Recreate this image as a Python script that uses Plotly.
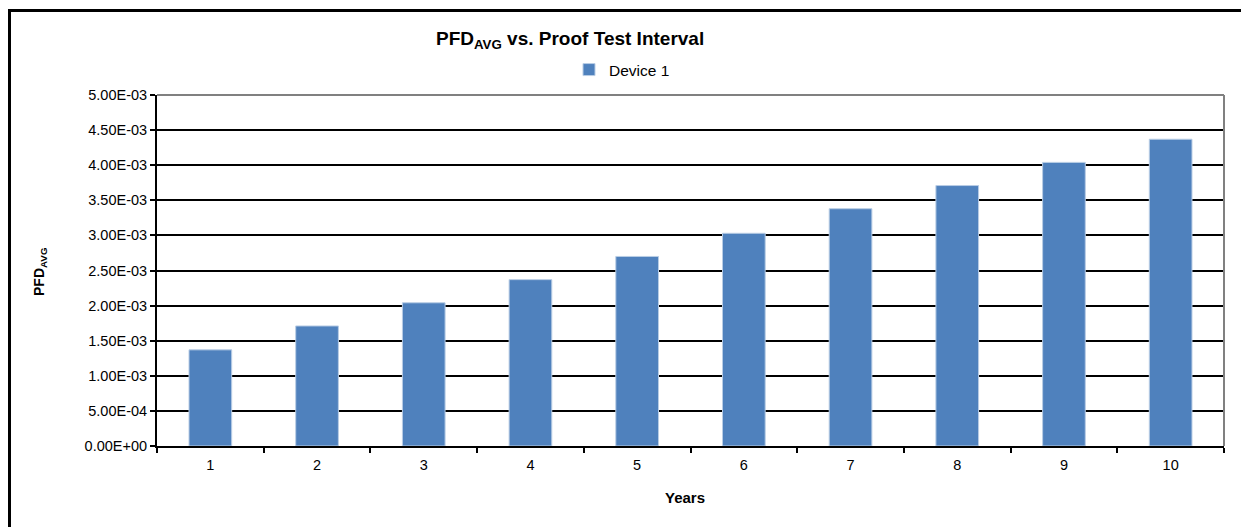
import plotly.graph_objects as go

years = ["1", "2", "3", "4", "5", "6", "7", "8", "9", "10"]
pfd_avg = [1.37e-3, 1.71e-3, 2.04e-3, 2.37e-3, 2.70e-3, 3.03e-3, 3.38e-3, 3.71e-3, 4.04e-3, 4.37e-3]
y_tick_vals = [0, 5e-4, 1e-3, 1.5e-3, 2e-3, 2.5e-3, 3e-3, 3.5e-3, 4e-3, 4.5e-3, 5e-3]
y_tick_text = ["0.00E+00", "5.00E-04", "1.00E-03", "1.50E-03", "2.00E-03", "2.50E-03",
               "3.00E-03", "3.50E-03", "4.00E-03", "4.50E-03", "5.00E-03"]

# page is drawn with an 8px body margin; work in page coordinates and convert
OFF = 8
W, H = 1249 - OFF, 527 - OFF
L, R, T, B = 157 - OFF, 25, 95 - OFF, 81
pw, ph = W - L - R, H - T - B

def px(x):
    return (x - OFF - L) / pw

def py(y):
    return (H - B - (y - OFF)) / ph

FONT = "Liberation Sans, Arial, sans-serif"

fig = go.Figure()
fig.add_trace(go.Bar(
    x=years, y=pfd_avg, name="Device 1",
    marker=dict(color="#4F81BD", line=dict(color="#B9CDE5", width=1)),
))

fig.update_layout(
    width=W, height=H,
    margin=dict(l=L, r=R, t=T, b=B),
    paper_bgcolor="white", plot_bgcolor="white",
    font=dict(family=FONT, size=14, color="black"),
    bargap=0.6,
    showlegend=True,
    legend=dict(orientation="h", x=px(622), y=py(70), xanchor="center", yanchor="middle",
                font=dict(size=15.5), bgcolor="rgba(0,0,0,0)", itemwidth=30),
    xaxis=dict(
        showline=True, linecolor="black", linewidth=2,
        ticks="outside", ticklen=5, tickwidth=2, tickcolor="black",
        tickson="boundaries", showgrid=False, ticklabelstandoff=5,
        tickfont=dict(size=14.5), fixedrange=True,
    ),
    yaxis=dict(
        range=[0, 5e-3], tickvals=y_tick_vals, ticktext=y_tick_text,
        showline=True, linecolor="black", linewidth=2,
        ticks="outside", ticklen=5, tickwidth=2, tickcolor="black",
        showgrid=True, gridcolor="black", gridwidth=2, zeroline=False,
        tickfont=dict(size=14.5), fixedrange=True,
    ),
    annotations=[
        dict(text="<b>PFD<sub>AVG</sub> vs. Proof Test Interval</b>", x=px(570), y=py(40),
             xref="paper", yref="paper", showarrow=False, font=dict(size=19),
             xanchor="center", yanchor="middle"),
        dict(text="<b>Years</b>", x=px(685), y=py(497), xref="paper", yref="paper",
             showarrow=False, font=dict(size=15), xanchor="center", yanchor="middle"),
        dict(text="<b>PFD<sub>AVG</sub></b>", x=px(40), y=py(272), xref="paper", yref="paper",
             showarrow=False, font=dict(size=14), textangle=-90,
             xanchor="center", yanchor="middle"),
    ],
    shapes=[
        dict(type="line", xref="paper", yref="paper", x0=0, x1=1, y0=1, y1=1,
             line=dict(color="#808080", width=2)),
        dict(type="line", xref="paper", yref="paper", x0=1, x1=1, y0=0, y1=1,
             line=dict(color="#808080", width=2)),
        dict(type="line", xref="paper", yref="paper", x0=px(9.5), x1=px(9.5), y0=py(9), y1=py(540),
             line=dict(color="black", width=3)),
        dict(type="line", xref="paper", yref="paper", x0=px(8), x1=px(1260), y0=py(10.5), y1=py(10.5),
             line=dict(color="black", width=3)),
    ],
)

fig.write_html("out.html")
